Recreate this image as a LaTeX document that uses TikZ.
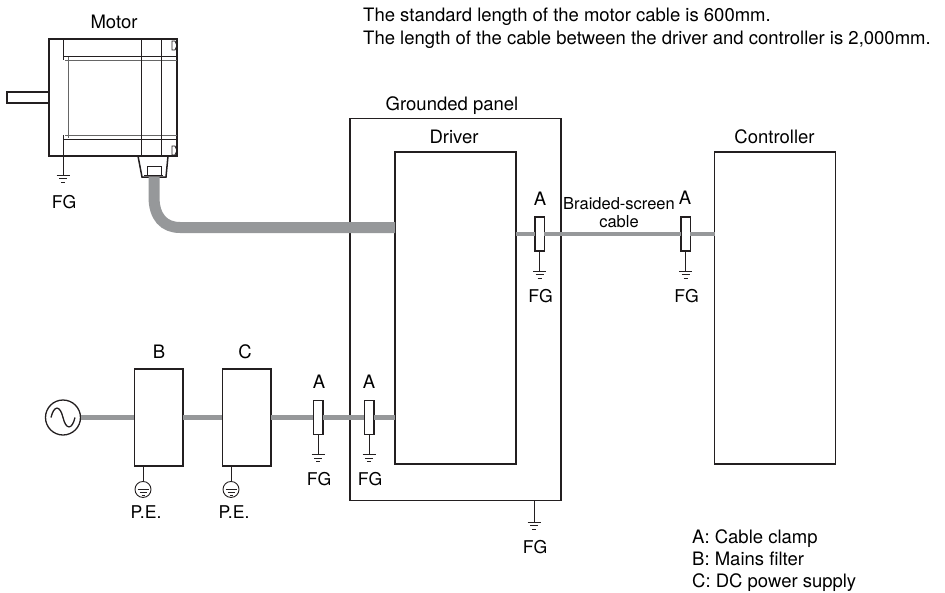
\documentclass[tikz,border=0pt]{standalone}
\usepackage{fontspec}
\setmainfont{TeX Gyre Heros}
\usetikzlibrary{calc}
\definecolor{cablegray}{RGB}{150,152,154}
\definecolor{inkline}{RGB}{35,31,32}
\newcommand{\drawthick}{\draw[line width=1.5pt,inkline]}
\newcommand{\drawthin}{\draw[line width=0.9pt,inkline]}
\newcommand{\drawinner}{\draw[line width=1pt,black!60]}
\newcommand{\drawbars}[1]{
    \drawthin (#1)++(-6.5,0)--++(13,0);
    \drawthin (#1)++(-4,3.5)--++(8,0);
    \drawthin (#1)++(-2,7)--++(4,0);
}
\newcommand{\drawfg}[4]{
    \drawthin #1--++(0,#2) coordinate (#3top);
    \drawbars{#3top}
    \node[gndlbl] (#3) at ($(#3top)+(1,#4)$) {FG};
}
\newcommand{\drawpe}[2]{
    \drawthin #1--++(0,15) coordinate (#2top);
    \node[draw=inkline,circle,minimum size=16pt,inner sep=0pt,line width=0.9pt,anchor=north] (#2sym) at (#2top) {};
    \drawthin ($(#2sym.center)+(-5.5,0)$)--++(11,0);
    \drawthin ($(#2sym.center)+(-3.5,3)$)--++(7,0);
    \drawthin ($(#2sym.center)+(-1.5,6)$)--++(3,0);
    \node[gndlbl] (#2) at ($(#2sym.center)+(3,23)$) {P.E.};
}
\tikzset{
    box/.style={draw=inkline,line width=1.5pt,fill=white,minimum width=#1,inner sep=0pt,outer sep=0pt},
    clamp/.style={draw=inkline,line width=1.5pt,fill=white,minimum width=9.5pt,minimum height=34pt,inner sep=0pt,outer sep=0pt},
    wire/.style={line width=4.2pt,cablegray},
    lbl/.style={font=\fontsize{18.5}{20}\selectfont,inner sep=0pt,text=black},
    gndlbl/.style={font=\fontsize{17.6}{20}\selectfont,inner sep=0pt,text=black},
    note/.style={lbl,anchor=base west},
    cablelbl/.style={font=\fontsize{16.5}{20}\selectfont,inner sep=0pt,text=black},
}
\begin{document}
\begin{tikzpicture}[x=1pt,y=-1pt]
\useasboundingbox (0,0) rectangle (945,592);
\node[box=211pt,minimum height=382pt] (panel) at (455.5,309.5) {};
\node[box=121pt,minimum height=312pt] (driver) at (455.5,308) {};
\node[box=121pt,minimum height=312pt] (controller) at (775,308) {};
\node[box=48.5pt,minimum height=97pt] (filter) at (158.5,417.5) {};
\node[box=48.5pt,minimum height=97pt] (supply) at (246.5,417.5) {};
\node[clamp] (clampa) at (318,417.5) {};
\node[clamp] (clampb) at (369,417.5) {};
\node[clamp] (clampc) at (539.5,234) {};
\node[clamp] (clampd) at (685.5,234) {};
\node[draw=inkline,circle,line width=1.3pt,minimum size=35pt,inner sep=0pt] (source) at (63,417.5) {};
\draw[line width=1.3pt,inkline] (51,417.5) .. controls (54,405) and (60,405) .. (63,417.5) .. controls (66,430) and (72,430) .. (75,417.5);
\draw[wire] (source.east)--(filter.west);
\draw[wire] (filter.east)--(supply.west);
\draw[wire] (supply.east)--(clampa.west);
\draw[wire] (clampa.east)--(clampb.west);
\draw[wire] (clampb.east)--(clampb.east-|driver.west);
\draw[wire] (clampc.west-|driver.east)--(clampc.west);
\draw[wire] (clampc.east)--(clampd.west);
\draw[wire] (clampd.east)--(clampd.east-|controller.west);
\node[box=128pt,minimum height=117pt] (motor) at (113,97.5) {};
\node[box=42pt,minimum height=11pt] (shaft) at (28,97.5) {};
\drawinner (65,60)--(177,60);
\drawinner (65,135)--(177,135);
\drawinner (68,57)--(68,138);
\drawthin (63,39)--(63,60);
\drawthin (63,135)--(63,156);
\drawthin (63,56)--(177,56);
\drawthin (63,139)--(177,139);
\drawthin (141,39)--(141,156);
\drawthin (161,39)--(161,156);
\drawthin (172,41)--(175,41)--(177,45.5)--(175,50)--(172,50)--cycle;
\drawthin (172,146)--(175,146)--(177,150.5)--(175,155)--(172,155)--cycle;
\drawthick (138,156)--(142,177)--(166,177)--(168,156);
\drawthin (147,175)--(147,166)--(161,166)--(161,175);
\drawthin (144,175)--(163,175);
\coordinate (plug) at (154,177);
\coordinate (bend) at (180,227.5);
\draw[line width=11pt,cablegray] (plug)--(154,197) .. controls (154,217) and (164,227.5) .. (bend)--(bend-|driver.west);
\node[lbl] (motorlbl) at (114,22) {Motor};
\node[lbl,anchor=base] (panellbl) at (452,110) {Grounded panel};
\node[lbl] (driverlbl) at (454,137) {Driver};
\node[lbl] (controllerlbl) at (774.5,137) {Controller};
\node[lbl] (filterlbl) at (159,352) {B};
\node[lbl] (supplylbl) at (245,352) {C};
\node[lbl] (clampalbl) at (319,382) {A};
\node[lbl] (clampblbl) at (369,382) {A};
\node[lbl] (clampclbl) at (540,199) {A};
\node[lbl] (clampdlbl) at (685,198) {A};
\node[cablelbl] (cablelbla) at (619,204) {Braided-screen};
\node[cablelbl] (cablelblb) at (619,222) {cable};
\drawfg{(63,156)}{19}{fgmotor}{27}
\drawfg{(clampa.south)}{20}{fga}{25}
\drawfg{(clampb.south)}{20}{fgb}{25}
\drawfg{(clampc.south)}{20}{fgc}{25}
\drawfg{(clampd.south)}{20}{fgd}{25}
\drawfg{(534,500)}{22}{fgpanel}{25}
\drawpe{(143,466)}{pefilter}
\drawpe{(231,466)}{pesupply}
\node[note] (notea) at (363,21.5) {The standard length of the motor cable is 600mm.};
\node[note] (noteb) at (363,44) {The length of the cable between the driver and controller is 2,000mm.};
\node[note] (legenda) at (692,543.5) {A: Cable clamp};
\node[note] (legendb) at (692,565.5) {B: Mains filter};
\node[note] (legendc) at (692,587.5) {C: DC power supply};
\end{tikzpicture}
\end{document}
